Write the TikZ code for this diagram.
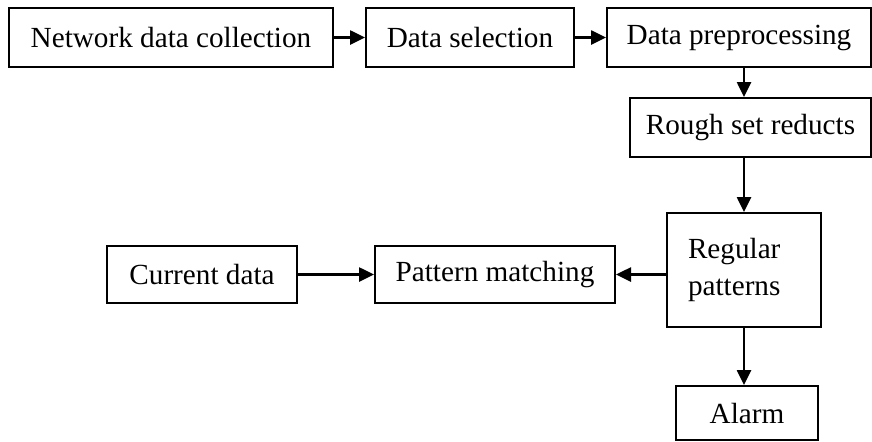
\documentclass[tikz,border=0pt]{standalone}
\usepackage{fontspec}
\setmainfont{Liberation Serif}
\usetikzlibrary{arrows.meta,positioning,calc}

\begin{document}
\begin{tikzpicture}[x=0.5pt, y=-0.5pt,
    box/.style={draw, line width=1pt, inner sep=0pt, font=\fontsize{14.6}{18.5}\selectfont},
    arr/.style={line width=1.3pt, -{Triangle[length=7.5pt,width=7pt]}}]
    \useasboundingbox (0,0) rectangle (872,441);

    % Rangée du haut
    \node[box, minimum width=162pt, minimum height=29.5pt] (collect) at (171, 37.5) {Network data collection};
    \node[box, minimum width=104pt, minimum height=29.5pt] (select) at (470, 37.5) {Data selection};
    \node[box, minimum width=132pt, minimum height=29.5pt] (prep) at (739, 37.5) {Data preprocessing};

    % Colonne de droite
    \node[box, minimum width=120.5pt, minimum height=29.5pt] (rough) at (750.5, 127.5) {Rough set reducts};
    \node[box, minimum width=77pt, minimum height=57pt, text width=56pt, align=left] (regular) at (744, 270) {Regular\\patterns};
    \node[box, minimum width=71pt, minimum height=27pt] (alarm) at (747, 413) {Alarm};

    % Rangée du milieu
    \node[box, minimum width=95pt, minimum height=28.5pt] (current) at (202, 274.5) {Current data};
    \node[box, minimum width=120pt, minimum height=28.5pt] (pattern) at (495, 274.5) {Pattern matching};

    % Flèches
    \draw[arr] (collect.east) -- (select.west);
    \draw[arr] (select.east) -- (prep.west);
    \draw[arr] (regular.north |- prep.south) -- (regular.north |- rough.north);
    \draw[arr] (regular.north |- rough.south) -- (regular.north);
    \draw[arr] (regular.west |- pattern.east) -- (pattern.east);
    \draw[arr] (current.east) -- (pattern.west);
    \draw[arr] (regular.south) -- (regular.south |- alarm.north);
\end{tikzpicture}
\end{document}
